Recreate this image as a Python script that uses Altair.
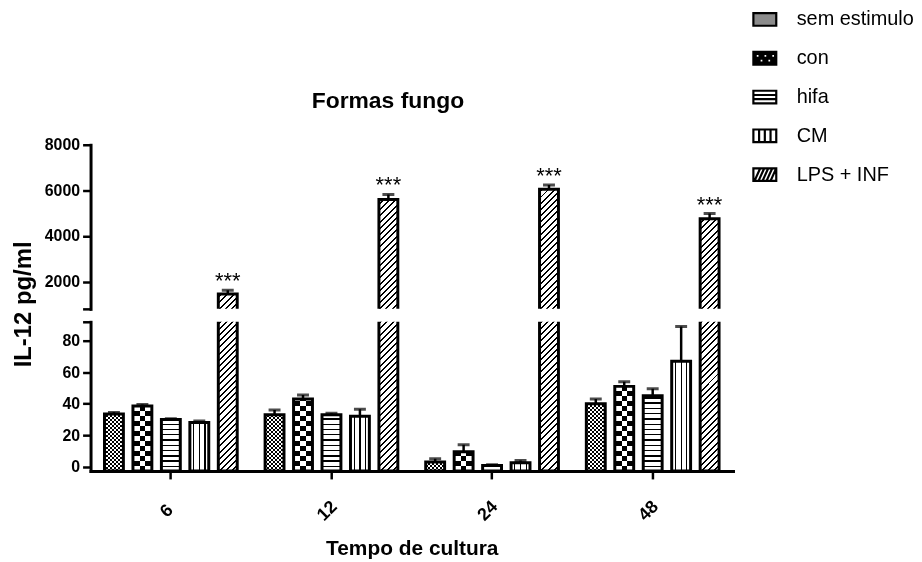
import math
import altair as alt
import pandas as pd

# ---------------- data ----------------
groups = ["6", "12", "24", "48"]
series = ["sem estimulo", "con", "hifa", "CM", "LPS + INF"]

sem_estimulo = [33.5, 33.0, 3.0, 40.0]
con = [38.5, 43.0, 9.5, 51.0]
hifa = [30.0, 33.0, 0.8, 45.0]
cm = [28.0, 32.0, 2.5, 67.0]
lps_inf = [1450, 5600, 6050, 4750]

sem_estimulo_err = [1.0, 3.0, 2.0, 3.0]
con_err = [1.0, 2.5, 4.5, 3.0]
hifa_err = [0.5, 1.0, 0.5, 4.5]
cm_err = [1.0, 4.5, 1.5, 22.0]
lps_inf_err = [170, 220, 180, 230]

lps_sig = ["***", "***", "***", "***"]

lower_ticks = [0, 20, 40, 60, 80]
upper_ticks = [2000, 4000, 6000, 8000]

values = [sem_estimulo, con, hifa, cm, lps_inf]
errors = [sem_estimulo_err, con_err, hifa_err, cm_err, lps_inf_err]
rows = []
for gi, g in enumerate(groups):
    for si, s in enumerate(series):
        rows.append({"group": g, "series": s, "value": values[si][gi],
                     "err": errors[si][gi],
                     "sig": lps_sig[gi] if s == "LPS + INF" else ""})
df = pd.DataFrame(rows)

# ---------------- layout ----------------
FONT = "Liberation Sans"
W = 646
H_UP = 165
H_LOW = 150
LOW_DOM = [-2.7, 92]
UP_DOM = [800, 8000]
P_IN = 0.336
P_OUT = 0.49
BAND = W / len(groups)
STEP = BAND / (len(series) - P_IN + 2 * P_OUT)
BW = STEP * (1 - P_IN)
PXL = H_LOW / (LOW_DOM[1] - LOW_DOM[0])
PXU = H_UP / (UP_DOM[1] - UP_DOM[0])

# ---------------- hatch patterns as hard-stop gradients ----------------
def stops_str(pts):
    return "[" + ",".join("{offset:%.5f,color:'%s'}" % (o, c) for o, c in pts) + "]"


def periodic(n, first_frac, c1, c2):
    pts = []
    for k in range(n):
        a, b, e = k / n, (k + first_frac) / n, (k + 1) / n
        pts += [(a, c1), (b, c1), (b, c2), (e, c2)]
    return pts


def hgrad(n, period, first_frac, c1, c2, hexpr):
    L = n * period
    return ("{gradient:'linear',x1:0,y1:1,x2:0,y2:1-%.3f/(%s),stops:%s}"
            % (L, hexpr, stops_str(periodic(n, first_frac, c1, c2))))


def vgrad(pts, length_px):
    return ("{gradient:'linear',x1:0,y1:0,x2:%.5f,y2:0,stops:%s}"
            % (length_px / BW, stops_str(pts)))


def dgrad(n, period, first_frac, c1, c2, hexpr):
    L = n * period * math.sqrt(2)
    c = "(%.3f/(%.4f+(%s)*(%s)))" % (L, BW * BW, hexpr, hexpr)
    return ("{gradient:'linear',x1:1,y1:1,x2:1-%s*%.4f,y2:1-%s*(%s),stops:%s}"
            % (c, BW, c, hexpr, stops_str(periodic(n, first_frac, c1, c2))))


d = 0.6 / BW
CM_PTS = [(0, "white")]
for pos in (0.2, 0.5, 0.8):
    CM_PTS += [(pos - d, "white"), (pos - d, "black"), (pos + d, "black"), (pos + d, "white")]
CM_PTS += [(1, "white")]
CON_V_PTS = [(0, "black"), (0.36, "black"), (0.36, "white"), (0.64, "white"),
             (0.64, "black"), (1, "black")]


def base_expr(hexpr):
    return ("datum.series==='hifa'?%s:datum.series==='CM'?%s:datum.series==='con'?%s:"
            "datum.series==='sem estimulo'?%s:%s" % (
                hgrad(32, 5.3, 0.74, "white", "black", hexpr),
                vgrad(CM_PTS, BW),
                vgrad(CON_V_PTS, BW),
                vgrad(periodic(6, 0.5, "white", "black"), 24),
                dgrad(50, 4.4, 0.68, "white", "black", hexpr)))


def overlay_expr(hexpr):
    return "datum.series==='con'?%s:%s" % (
        hgrad(16, 10, 0.5, "white", "black", hexpr),
        hgrad(40, 4, 0.5, "white", "black", hexpr))


H_LOW_EXPR = "((datum.value-(%s))*%.6f)" % (LOW_DOM[0], PXL)
H_UP_EXPR = "((datum.value)*%.6f)" % PXU

# ---------------- legend symbols ----------------
R = "M-1,-0.55L1,-0.55L1,0.55L-1,0.55Z"


def hole(x, y, s=0.34):
    return "M%g,%gL%g,%gL%g,%gL%g,%gZ" % (x, y, x, y + s, x + s, y + s, x + s, y)


con_path = R + "".join(hole(x, -0.38) for x in (-0.8, -0.12, 0.56)) + \
    "".join(hole(x, 0.04) for x in (-0.46, 0.22))
hifa_path = R + "M-1,-0.18L1,-0.18M-1,0.18L1,0.18"
cm_path = R + "M-0.5,-0.55L-0.5,0.55M0,-0.55L0,0.55M0.5,-0.55L0.5,0.55"
lps_path = R + "".join("M%g,0.55L%g,-0.55" % (x, x + 0.5) for x in (-0.9, -0.55, -0.2, 0.15, 0.5))
legend_shapes = [R, con_path, hifa_path, cm_path, lps_path]
legend_fills = ["#8c8c8c", "black", "white", "white", "white"]

# ---------------- encodings ----------------
def x_enc(axis):
    return alt.X("group:N", sort=groups,
                 scale=alt.Scale(domain=groups, paddingInner=0, paddingOuter=0),
                 axis=axis)


XO = alt.XOffset("series:N", sort=series,
                 scale=alt.Scale(domain=series, paddingInner=P_IN, paddingOuter=P_OUT))

axis_common = dict(labelFont=FONT, labelFontWeight="bold",
                   labelColor="black", tickColor="black", tickWidth=2.5, tickSize=8,
                   domainColor="black", domainWidth=3, domainCap="square", grid=False,
                   titleFont=FONT, titleFontWeight="bold", titleColor="black")

xaxis_low = alt.Axis(title="Tempo de cultura", titleFontSize=21, titleY=84,
                     titleBaseline="alphabetic", labelAngle=-45, labelAlign="center",
                     labelBaseline="middle", labelPadding=32, labelOffset=-4,
                     labelFontSize=18, **axis_common)
yaxis_low = alt.Axis(values=lower_ticks + [LOW_DOM[1]], format="d",
                     labelExpr="datum.value > 90 ? '' : datum.label",
                     title="IL-12 pg/ml", titleFontSize=24, titleX=-60, titleY=-18,
                     titleAlign="center", titleBaseline="alphabetic", labelPadding=3,
                     labelFontSize=16, **axis_common)
yaxis_up = alt.Axis(values=[UP_DOM[0]] + upper_ticks, format="d",
                    labelExpr="datum.value < 1000 ? '' : datum.label",
                    title=None, labelPadding=3, labelFontSize=16, **axis_common)

ylow = alt.Scale(domain=LOW_DOM, nice=False, zero=False)
yup = alt.Scale(domain=UP_DOM, nice=False, zero=False)

# ---------------- lower panel ----------------
low = alt.Chart(df).transform_calculate(top="datum.value + datum.err")
XL = x_enc(xaxis_low)
YL = alt.Y("value:Q", scale=ylow, axis=yaxis_low)
YLT = alt.Y("top:Q", scale=ylow, axis=yaxis_low)

low_fill = low.transform_calculate(g1=base_expr(H_LOW_EXPR)).mark_bar(clip=True).encode(
    x=XL, xOffset=XO, y=YL, y2=alt.datum(LOW_DOM[0]),
    fill=alt.Fill("g1:N", scale=None))
low_overlay = low.transform_filter(
    "datum.series==='con' || datum.series==='sem estimulo'"
).transform_calculate(g2=overlay_expr(H_LOW_EXPR)).mark_bar(blend="difference").encode(
    x=XL, xOffset=XO, y=YL, y2=alt.datum(LOW_DOM[0]),
    fill=alt.Fill("g2:N", scale=None))
low_outline = low.mark_bar(clip=True, filled=False, stroke="black", strokeWidth=3).encode(
    x=XL, xOffset=XO, y=YL, y2=alt.datum(LOW_DOM[0]))
low_err = low.mark_rule(clip=True, color="black", strokeWidth=2.5).encode(
    x=XL, xOffset=XO, y=YL, y2="top:Q")
low_cap = low.mark_tick(clip=True, color="black", thickness=3, size=12,
                        orient="horizontal").encode(x=XL, xOffset=XO, y=YLT)

leg = alt.Legend(title=None, orient="none", legendX=665, legendY=-139, padding=0,
                 labelFont=FONT, labelFontSize=20, labelColor="black",
                 symbolSize=529, rowPadding=15, labelOffset=19,
                 symbolStrokeColor="black", symbolStrokeWidth=2.2, labelLimit=300)
legend_layer = alt.Chart(df).transform_filter("false").mark_point(
    filled=True, stroke="black", strokeWidth=2.2, opacity=1).encode(
    shape=alt.Shape("series:N", scale=alt.Scale(domain=series, range=legend_shapes), legend=leg),
    fill=alt.Fill("series:N", scale=alt.Scale(domain=series, range=legend_fills), legend=leg))

lower = alt.layer(low_fill, low_overlay, low_outline, low_err, low_cap,
                  legend_layer).properties(width=W, height=H_LOW)

# ---------------- upper panel ----------------
up = alt.Chart(df).transform_calculate(top="datum.value + datum.err").transform_filter(
    "datum.value > %s" % UP_DOM[0])
XU = x_enc(None)
YU = alt.Y("value:Q", scale=yup, axis=yaxis_up)
YUT = alt.Y("top:Q", scale=yup, axis=yaxis_up)

up_fill = up.transform_calculate(g1=base_expr(H_UP_EXPR)).mark_bar(clip=True).encode(
    x=XU, xOffset=XO, y=YU, y2=alt.datum(0),
    fill=alt.Fill("g1:N", scale=None))
up_outline = up.mark_bar(clip=True, filled=False, stroke="black", strokeWidth=3).encode(
    x=XU, xOffset=XO, y=YU, y2=alt.datum(0))
up_err = up.mark_rule(clip=True, color="black", strokeWidth=2.5).encode(
    x=XU, xOffset=XO, y=YU, y2="top:Q")
up_cap = up.mark_tick(clip=True, color="black", thickness=3, size=12,
                      orient="horizontal").encode(x=XU, xOffset=XO, y=YUT)
up_text = up.transform_filter("datum.sig != ''").mark_text(
    font=FONT, fontSize=22, color="black", baseline="alphabetic", dy=-2).encode(
    x=XU, xOffset=XO, y=YUT, text="sig:N")

upper = alt.layer(up_fill, up_outline, up_err, up_cap, up_text).properties(
    width=W, height=H_UP,
    title=alt.TitleParams("Formas fungo", font=FONT, fontSize=23, fontWeight="bold",
                          color="black", anchor="middle", frame="group", offset=24, dx=-24))

chart = alt.vconcat(upper, lower, spacing=13, bounds="flush").properties(
    padding={"left": 4, "top": -3, "right": 0, "bottom": 0},
    background="white",
).configure(font=FONT).configure_view(stroke=None)

chart.save("out.html", embed_options={"renderer": "svg", "actions": False})
